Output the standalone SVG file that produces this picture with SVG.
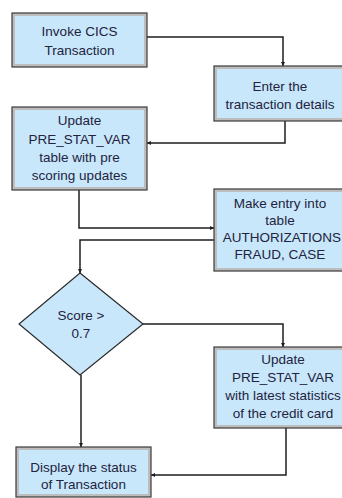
<svg xmlns="http://www.w3.org/2000/svg" width="342" height="498" viewBox="0 0 342 498">
<style>
.outer{fill:#bdbdbd;stroke:#3a3a3a;stroke-width:1.2}
.inner{fill:#c8e7fb}
.dia{fill:#c8e7fb;stroke:#2a2a2a;stroke-width:1.2}
.t{font-family:"Liberation Sans",Arial,sans-serif;font-size:13.5px;fill:#23233d;text-anchor:middle}
.c{fill:none;stroke:#1e1e1e;stroke-width:1.5}
</style>
<defs>
<marker id="ah" viewBox="0 0 6 6" refX="6" refY="3" markerWidth="4" markerHeight="4" orient="auto" markerUnits="userSpaceOnUse">
<path d="M0,0 L6,3 L0,6 z" fill="#1e1e1e"/>
</marker>
</defs>
<rect width="342" height="498" fill="#ffffff"/>
<g id="connectors">
<polyline class="c" points="147,37 283,37 283,66" marker-end="url(#ah)"/>
<polyline class="c" points="285,121 285,143 147,143" marker-end="url(#ah)"/>
<polyline class="c" points="79,190 79,228 214,228" marker-end="url(#ah)"/>
<polyline class="c" points="214,240 80,240 80,273" marker-end="url(#ah)"/>
<polyline class="c" points="143,324 283,324 283,347" marker-end="url(#ah)"/>
<polyline class="c" points="286,428 286,475 151,475" marker-end="url(#ah)"/>
<polyline class="c" points="81,375 81,447" marker-end="url(#ah)"/>
</g>
<g id="n1">
<rect class="outer" x="12" y="13" width="135" height="54"/>
<rect class="inner" x="15" y="16" width="129" height="48"/>
<text class="t" x="79.5" y="36">Invoke CICS</text>
<text class="t" x="79.5" y="55">Transaction</text>
</g>
<g id="n2">
<rect class="outer" x="214" y="66" width="132" height="55"/>
<rect class="inner" x="217" y="69" width="126" height="49"/>
<text class="t" x="280" y="91">Enter the</text>
<text class="t" x="280" y="109">transaction details</text>
</g>
<g id="n3">
<rect class="outer" x="12" y="107" width="135" height="83"/>
<rect class="inner" x="15" y="110" width="129" height="77"/>
<text class="t" x="79.5" y="125">Update</text>
<text class="t" x="79.5" y="144">PRE_STAT_VAR</text>
<text class="t" x="79.5" y="162">table with pre</text>
<text class="t" x="79.5" y="180">scoring updates</text>
</g>
<g id="n4">
<rect class="outer" x="214" y="189" width="132" height="82"/>
<rect class="inner" x="217" y="192" width="126" height="76"/>
<text class="t" x="280" y="208">Make entry into</text>
<text class="t" x="280" y="225">table</text>
<text class="t" x="282" y="242">AUTHORIZATIONS</text>
<text class="t" x="280" y="259">FRAUD, CASE</text>
</g>
<g id="n5">
<polygon class="dia" points="80,273 143,324 80,375 19,324"/>
<text class="t" x="81" y="320">Score &gt;</text>
<text class="t" x="81" y="338">0.7</text>
</g>
<g id="n6">
<rect class="outer" x="214" y="347" width="132" height="81"/>
<rect class="inner" x="217" y="350" width="126" height="75"/>
<text class="t" x="283" y="364">Update</text>
<text class="t" x="283" y="382">PRE_STAT_VAR</text>
<text class="t" x="283" y="400">with latest statistics</text>
<text class="t" x="283" y="418">of the credit card</text>
</g>
<g id="n7">
<rect class="outer" x="16" y="447" width="135" height="50"/>
<rect class="inner" x="19" y="450" width="129" height="44"/>
<text class="t" x="83.5" y="472">Display the status</text>
<text class="t" x="83.5" y="489">of Transaction</text>
</g>
</svg>
